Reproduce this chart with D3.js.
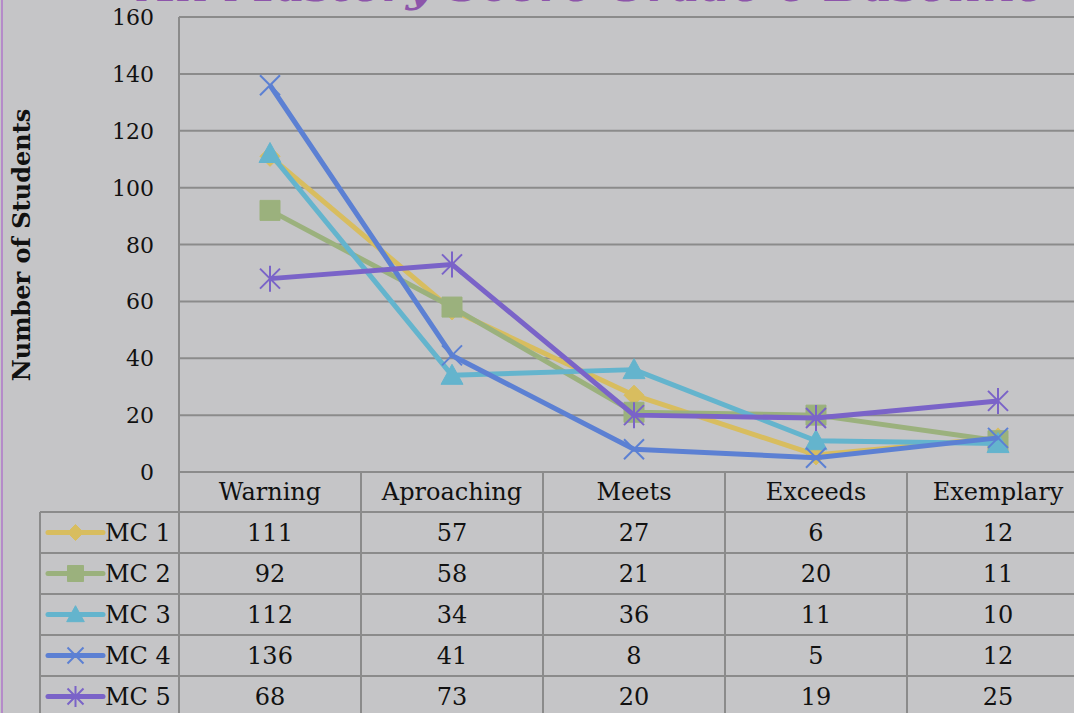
<!DOCTYPE html>
<html>
<head>
<meta charset="utf-8">
<script src="https://cdn.jsdelivr.net/npm/d3@7"></script>
<style>
  body { margin: 0; background: #c5c5c7; overflow: hidden; }
  svg { display: block; }
  text { font-family: "DejaVu Serif", serif; fill: #111; }
</style>
</head>
<body>
<div id="chart"></div>
<script>
var width = 1074;
var height = 713;

var categories = ["Warning", "Aproaching", "Meets", "Exceeds", "Exemplary"];
var seriesNames = ["MC 1", "MC 2", "MC 3", "MC 4", "MC 5"];
var mc1 = [111, 57, 27, 6, 12];
var mc2 = [92, 58, 21, 20, 11];
var mc3 = [112, 34, 36, 11, 10];
var mc4 = [136, 41, 8, 5, 12];
var mc5 = [68, 73, 20, 19, 25];
var yTicks = [0, 20, 40, 60, 80, 100, 120, 140, 160];

var seriesValues = [mc1, mc2, mc3, mc4, mc5];
var colors = ["#d8bd5f", "#9bb17d", "#64b4cd", "#5c80d3", "#7a63c8"];
var markers = ["diamond", "square", "triangle", "x", "star"];
var gridColor = "#8b8b8b";

var plotLeft = 179, plotTop = 17, plotBottom = 472;
var colW = 182, rowH = 41, headerH = 40;

var x = d3.scaleBand().domain(categories).range([plotLeft, plotLeft + colW * categories.length]);
var y = d3.scaleLinear().domain([0, 160]).range([plotBottom, plotTop]);
var rowY = d3.scaleBand().domain(seriesNames)
    .range([plotBottom + headerH, plotBottom + headerH + rowH * seriesNames.length]);

var svg = d3.select("#chart").append("svg")
    .attr("width", width)
    .attr("height", height);

// title, mostly cut off at the top of the picture
svg.append("text")
    .attr("x", 140)
    .attr("y", 1)
    .attr("textLength", 905)
    .attr("lengthAdjust", "spacingAndGlyphs")
    .style("font-size", "44px")
    .style("font-style", "italic")
    .style("font-weight", "bold")
    .style("fill", "#8d55aa")
    .text("All Mastery Score Grade 6 Baseline");

// purple frame edge on the left
svg.append("line")
    .attr("x1", 2).attr("x2", 2).attr("y1", 0).attr("y2", height)
    .attr("stroke", "#b58bc9").attr("stroke-width", 2);

// grid lines
svg.selectAll(".grid")
    .data(yTicks)
    .enter()
    .append("line")
    .attr("class", "grid")
    .attr("x1", plotLeft).attr("x2", width)
    .attr("y1", function (d) { return y(d); })
    .attr("y2", function (d) { return y(d); })
    .attr("stroke", gridColor)
    .attr("stroke-width", 2);

// y tick labels
svg.selectAll(".ytick")
    .data(yTicks)
    .enter()
    .append("text")
    .attr("class", "ytick")
    .attr("x", 154)
    .attr("y", function (d) { return y(d) + 8; })
    .attr("text-anchor", "end")
    .style("font-size", "22px")
    .text(function (d) { return d; });

// y axis title
svg.append("text")
    .attr("transform", "translate(30,245) rotate(-90)")
    .attr("text-anchor", "middle")
    .style("font-size", "24px")
    .style("font-weight", "bold")
    .text("Number of Students");

// data table grid
var tableBottom = rowY.range()[1];
var legendLeft = 40;

var vx = categories.map(function (c) { return x(c); });
vx.push(x.range()[1]);
svg.selectAll(".vline")
    .data(vx)
    .enter()
    .append("line")
    .attr("class", "vline")
    .attr("x1", function (d) { return d; })
    .attr("x2", function (d) { return d; })
    .attr("y1", function (d, i) { return i === 0 ? plotTop : plotBottom; })
    .attr("y2", tableBottom)
    .attr("stroke", gridColor)
    .attr("stroke-width", 2);

svg.append("line")
    .attr("x1", legendLeft).attr("x2", legendLeft)
    .attr("y1", rowY.range()[0]).attr("y2", tableBottom)
    .attr("stroke", gridColor).attr("stroke-width", 2);

svg.selectAll(".hline")
    .data(seriesNames)
    .enter()
    .append("line")
    .attr("class", "hline")
    .attr("x1", legendLeft).attr("x2", width)
    .attr("y1", function (d) { return rowY(d); })
    .attr("y2", function (d) { return rowY(d); })
    .attr("stroke", gridColor)
    .attr("stroke-width", 2);

// category header
svg.selectAll(".cat")
    .data(categories)
    .enter()
    .append("text")
    .attr("class", "cat")
    .attr("x", function (d) { return x(d) + x.bandwidth() / 2; })
    .attr("y", plotBottom + headerH / 2 + 8)
    .attr("text-anchor", "middle")
    .style("font-size", "24px")
    .text(function (d) { return d; });

// marker shapes
function markerPath(type, r) {
    switch (type) {
        case "diamond":
            return "M0," + (-r) + "L" + r + ",0L0," + r + "L" + (-r) + ",0Z";
        case "square":
            return "M" + (-r) + "," + (-r) + "H" + r + "V" + r + "H" + (-r) + "Z";
        case "triangle":
            return "M0," + (-r * 1.1) + "L" + r * 1.1 + "," + r * 0.9 + "H" + (-r * 1.1) + "Z";
        case "x":
            return "M" + (-r) + "," + (-r) + "L" + r + "," + r + "M" + r + "," + (-r) + "L" + (-r) + "," + r;
        case "star":
            return "M" + (-r) + "," + (-r) + "L" + r + "," + r + "M" + r + "," + (-r) + "L" + (-r) + "," + r +
                "M0," + (-r * 1.3) + "V" + r * 1.3;
    }
}

function drawMarker(g, type, color, r) {
    var open = type === "x" || type === "star";
    g.append("path")
        .attr("d", markerPath(type, r))
        .attr("fill", open ? "none" : color)
        .attr("stroke", color)
        .attr("stroke-width", open ? 2 : 1);
}

var line = d3.line()
    .x(function (d, i) { return x(categories[i]) + x.bandwidth() / 2; })
    .y(function (d) { return y(d); });

seriesValues.forEach(function (vals, s) {
    var g = svg.append("g");
    g.append("path")
        .datum(vals)
        .attr("d", line)
        .attr("fill", "none")
        .attr("stroke", colors[s])
        .attr("stroke-width", 5)
        .attr("stroke-linejoin", "round");
    vals.forEach(function (v, i) {
        var m = g.append("g")
            .attr("transform", "translate(" + (x(categories[i]) + x.bandwidth() / 2) + "," + y(v) + ")");
        drawMarker(m, markers[s], colors[s], 10);
    });

    // table row: legend key, name, values
    var cy = rowY(seriesNames[s]) + rowH / 2;
    var key = svg.append("g");
    key.append("line")
        .attr("x1", 48).attr("x2", 103).attr("y1", cy).attr("y2", cy)
        .attr("stroke", colors[s]).attr("stroke-width", 5).attr("stroke-linecap", "round");
    var km = key.append("g").attr("transform", "translate(75.5," + cy + ")");
    drawMarker(km, markers[s], colors[s], 8);
    key.append("text")
        .attr("x", 105)
        .attr("y", cy + 8)
        .style("font-size", "24px")
        .text(seriesNames[s]);

    svg.selectAll(".val" + s)
        .data(vals)
        .enter()
        .append("text")
        .attr("x", function (d, i) { return x(categories[i]) + x.bandwidth() / 2; })
        .attr("y", cy + 8)
        .attr("text-anchor", "middle")
        .style("font-size", "24px")
        .text(function (d) { return d; });
});
</script>
</body>
</html>
